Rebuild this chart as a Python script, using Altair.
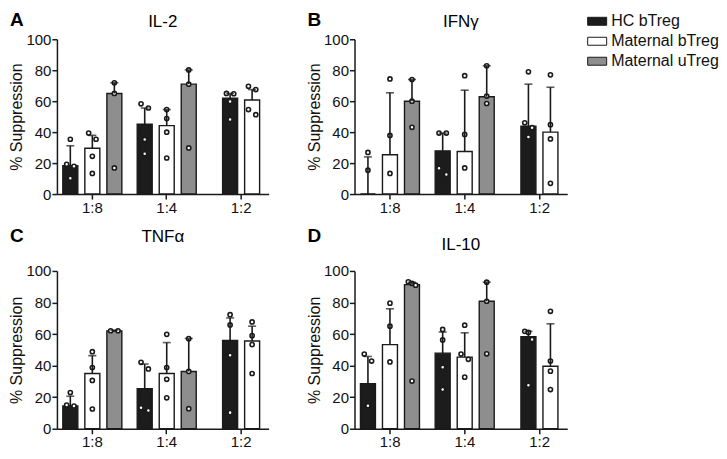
import altair as alt
import pandas as pd

# ---------------- data ----------------
panels = ["IL-2", "IFNγ", "TNFα", "IL-10"]
letters = ["A", "B", "C", "D"]
ratios = ["1:8", "1:4", "1:2"]
series = ["HC bTreg", "Maternal bTreg", "Maternal uTreg"]
colors = ["#1c1c1c", "#ffffff", "#8e8e8e"]
y_ticks = [0, 20, 40, 60, 80, 100]

# bar heights per ratio (1:8, 1:4, 1:2), series order as above
il2_mean = [[18.3, 29.6, 65.0], [45.2, 44.2, 71.0], [61.9, 60.8]]
il2_sd = [[12.9, 8.3, 6.9], [10.4, 10.4, 9.2], [3.1, 6.7]]
il2_dots = [
    [[35.4, 19.2, 17.9, 10.2], [39.4, 35.4, 24.4, 13.3], [71.9, 65.0, 16.9]],
    [[58.3, 55.6, 35.2, 26.0], [54.6, 48.8, 40.0, 23.3], [80.2, 71.0, 29.8]],
    [[65.0, 64.8, 59.8, 48.1], [69.6, 67.5, 54.6, 51.3]],
]

ifng_mean = [[0.0, 25.4, 60.0], [27.9, 27.5, 62.9], [43.8, 40.0]]
ifng_sd = [[24.0, 40.0, 14.0], [11.5, 39.6, 20.0], [27.2, 29.0]]
ifng_dots = [
    [[26.9, 15.4], [74.4, 37.9, 13.3], [74.0, 60.0, 43.1]],
    [[39.4, 39.4, 16.7, 12.7], [76.5, 38.5, 16.9], [82.9, 63.3, 58.5]],
    [[79.0, 46.0, 42.9, 36.9], [77.0, 44.8, 35.6, 6.9]],
]

tnfa_mean = [[14.4, 35.0, 61.9], [25.4, 35.0, 36.3], [56.0, 55.6]]
tnfa_sd = [[6.2, 11.3, 0.6], [15.6, 19.6, 20.9], [14.2, 9.4]]
tnfa_dots = [
    [[22.9, 15.0, 14.4], [48.8, 38.8, 30.6, 12.5], [62.1, 62.1]],
    [[42.1, 37.9, 13.3, 11.5], [59.8, 38.8, 31.3, 19.6], [57.1, 36.3, 12.7]],
    [[72.3, 65.8, 46.5, 10.2], [67.7, 59.0, 53.3, 35.0]],
]

il10_mean = [[28.5, 53.3, 91.3], [47.9, 45.4, 80.8], [58.3, 39.6]]
il10_sd = [[17.3, 22.7, 1.5], [13.4, 15.4, 12.1], [3.4, 26.9]]
il10_dots = [
    [[47.3, 42.9, 14.6], [79.6, 65.0, 42.3], [93.1, 92.1, 91.0, 30.2]],
    [[62.9, 56.3, 39.0, 24.8], [65.6, 47.3, 44.0, 32.7], [92.9, 80.8, 47.5]],
    [[61.7, 61.0, 56.5, 27.5], [74.4, 42.9, 36.5, 24.8]],
]

means = [il2_mean, ifng_mean, tnfa_mean, il10_mean]
sds = [il2_sd, ifng_sd, tnfa_sd, il10_sd]
dots = [il2_dots, ifng_dots, tnfa_dots, il10_dots]

# ---------------- tables ----------------
SUB = 3  # sub-slots per bar slot (centre + one either side for scattered dots)


def sub_index(si, n_in_group, col=0):
    slot = 2 * si if n_in_group == 3 else 2 * si + 1
    return slot * SUB + 1 + col


def swarm_cols(vals, gap=4.6):
    order = sorted(range(len(vals)), key=lambda i: -vals[i])
    clusters, cur = [], [order[0]]
    for i in order[1:]:
        if vals[cur[-1]] - vals[i] < gap:
            cur.append(i)
        else:
            clusters.append(cur)
            cur = [i]
    clusters.append(cur)
    cols = [0] * len(vals)
    for c in clusters:
        pattern = {1: [0], 2: [-1, 1], 3: [-1, 0, 1]}.get(len(c), [-1, 0, 1, 0])
        for k, i in enumerate(c):
            cols[i] = pattern[k]
    return cols


bar_rows, dot_rows = [], []
for p, name in enumerate(panels):
    for g, ratio in enumerate(ratios):
        n = len(means[p][g])
        for s in range(n):
            bar_rows.append(dict(panel=name, ratio=ratio, series=series[s],
                                 value=means[p][g][s],
                                 top=means[p][g][s] + sds[p][g][s],
                                 sub=sub_index(s, n)))
            vals = dots[p][g][s]
            for v, c in zip(vals, swarm_cols(vals)):
                dot_rows.append(dict(panel=name, ratio=ratio, series=series[s],
                                     value=v, sub=sub_index(s, n, c)))

bars = pd.DataFrame(bar_rows)
pts = pd.DataFrame(dot_rows)

FONT = "Liberation Sans"
INK = "#1a1a1a"

x_enc = alt.X("ratio:N", sort=ratios,
              scale=alt.Scale(domain=ratios, paddingInner=0.26,
                              paddingOuter=0.053, align=1),
              axis=alt.Axis(title=None, labelAngle=0))
xo_enc = alt.XOffset("sub:O", scale=alt.Scale(domain=list(range(5 * SUB)),
                                              paddingInner=0, paddingOuter=0))
y_scale = alt.Scale(domain=[0, 100], nice=False)


def y_enc(field):
    return alt.Y(field, scale=y_scale,
                 axis=alt.Axis(title="% Suppression", values=y_ticks,
                               labelOverlap=False))


def panel(i, name_y, letter_y, w, h, with_legend=False):
    name = panels[i]
    b = bars[bars.panel == name]
    d = pts[pts.panel == name]

    if with_legend:
        legend = alt.Legend(title=None, orient="none", legendX=w + 20, legendY=-28)
    else:
        legend = None

    bar_layer = alt.Chart(b).mark_bar(width=15, stroke=INK, strokeWidth=1.4).encode(
        x=x_enc, xOffset=xo_enc, y=y_enc("value:Q"),
        color=alt.Color("series:N", sort=series,
                        scale=alt.Scale(domain=series, range=colors),
                        legend=legend),
    )
    rule_layer = alt.Chart(b).mark_rule(color=INK, strokeWidth=1.6).encode(
        x=x_enc, xOffset=xo_enc, y=y_enc("value:Q"), y2="top:Q")
    cap_layer = alt.Chart(b).mark_tick(color=INK, size=8, thickness=1.6).encode(
        x=x_enc, xOffset=xo_enc, y=y_enc("top:Q"))
    dot_layer = alt.Chart(d).mark_circle(size=17, color="white", stroke=INK,
                                         strokeWidth=1.6, opacity=1).encode(
        x=x_enc, xOffset=xo_enc, y=y_enc("value:Q"))
    letter = alt.Chart(pd.DataFrame({"t": [letters[i]]})).mark_text(
        font=FONT, fontSize=19, fontWeight="bold", color="black",
        align="left", baseline="middle").encode(
        text="t:N", x=alt.value(-47), y=alt.value(letter_y))
    heading = alt.Chart(pd.DataFrame({"t": [name]})).mark_text(
        font=FONT, fontSize=17, color="black",
        align="center", baseline="middle").encode(
        text="t:N", x=alt.value(w / 2), y=alt.value(name_y))

    return alt.layer(bar_layer, dot_layer, rule_layer, cap_layer, letter, heading).properties(
        width=w, height=h)


top_row = alt.hconcat(panel(0, -17, -19, 212, 155),
                      panel(1, -17, -19, 213, 155, with_legend=True),
                      spacing=37).resolve_scale(color="independent")
bottom_row = alt.hconcat(panel(2, -34, -35, 212, 158),
                         panel(3, -26, -35, 213, 158),
                         spacing=37).resolve_scale(color="independent")

chart = alt.vconcat(top_row, bottom_row, spacing=12).resolve_scale(
    color="independent").properties(
    padding={"left": 0, "top": 3, "right": 0, "bottom": 0}
).configure_view(stroke=None).configure_axis(
    labelFont=FONT, labelFontSize=15, labelColor="#111",
    titleFont=FONT, titleFontSize=16, titleFontWeight="normal", titleColor="#111",
    domainColor=INK, domainWidth=1.5, tickColor=INK, tickWidth=1.5, tickSize=5,
    labelPadding=1, titlePadding=1, grid=False,
).configure_legend(
    padding=0,
    labelFont=FONT, labelFontSize=16, labelColor="#111", labelOffset=4,
    symbolType="M-1,-0.42H1V0.42H-1Z", symbolSize=361,
    symbolStrokeColor=INK, symbolStrokeWidth=1, rowPadding=2,
)

chart.save("out.html", embed_options={"renderer": "svg", "actions": False})
